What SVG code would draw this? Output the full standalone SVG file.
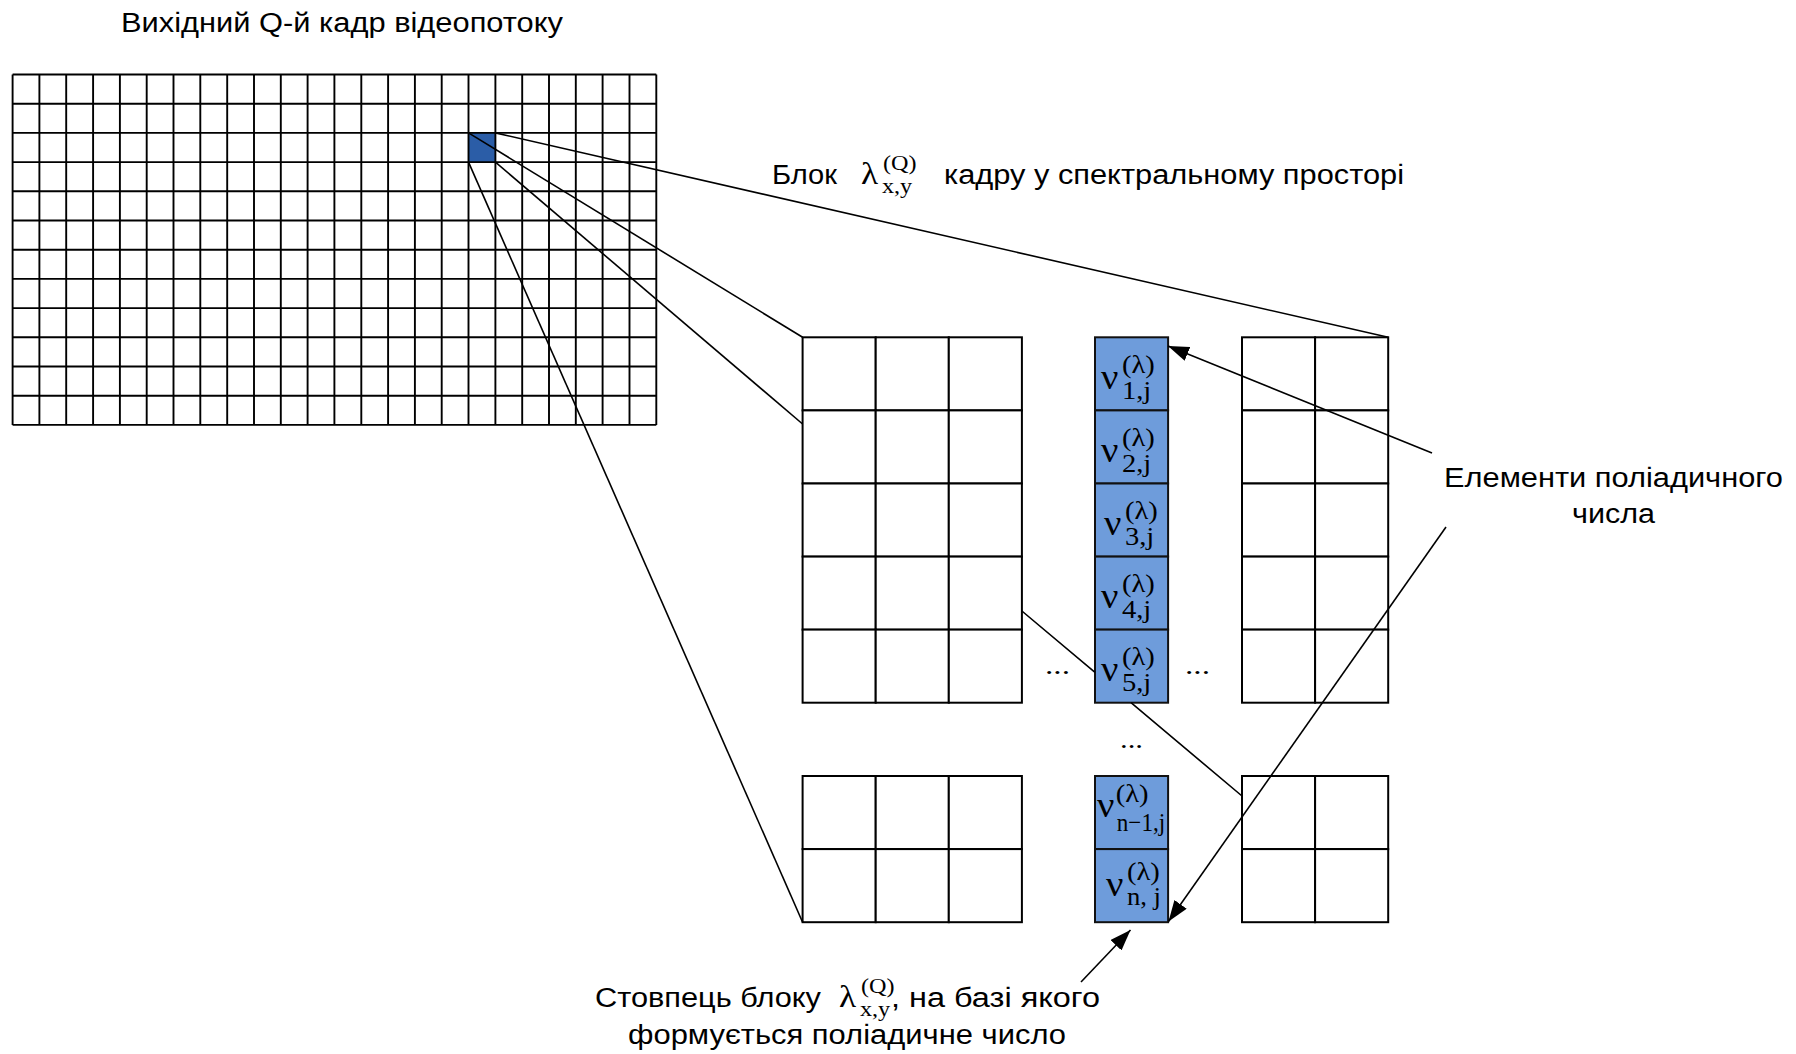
<svg xmlns="http://www.w3.org/2000/svg" width="1796" height="1054" viewBox="0 0 1796 1054">
  <style>
    .sans { font-family: "Liberation Sans", Arial, sans-serif; font-size: 27px; fill: #000; }
    .m { font-family: "Liberation Serif", "Times New Roman", serif; fill: #000; }
    .nu { font-size: 35px; }
    .ix { font-size: 26px; }
    .lam { font-size: 32px; }
    .lix { font-size: 22px; }
    .dots { font-family: "Liberation Serif", "Times New Roman", serif; font-size: 26px; fill: #000; }
    .grid { fill: none; stroke: #000; stroke-width: 1.9; }
    .cell { fill: #fff; stroke: #000; stroke-width: 2; }
    .vcell { fill: #6e9cdb; stroke: #111; stroke-width: 2; }
    .wire { fill: none; stroke: #000; stroke-width: 1.6; }
    .arrow { fill: none; stroke: #000; stroke-width: 1.6; marker-end: url(#head); }
  </style>
  <defs>
    <marker id="head" markerUnits="userSpaceOnUse" markerWidth="22" markerHeight="16" refX="21" refY="7.5" orient="auto">
      <path d="M0,0 L21,7.5 L0,15 Z" fill="#000"/>
    </marker>
  </defs>

  <rect width="1796" height="1054" fill="#fff"/>

  <!-- frame: 24 x 12 grid with the selected block -->
  <g id="frame">
    <rect x="468.5" y="132.9" width="26.9" height="29.2" fill="#2b5da7"/>
    <path class="grid" d="M12.6 74.5V424.9M39.4 74.5V424.9M66.2 74.5V424.9M93.1 74.5V424.9M119.9 74.5V424.9M146.7 74.5V424.9M173.5 74.5V424.9M200.3 74.5V424.9M227.2 74.5V424.9M254 74.5V424.9M280.8 74.5V424.9M307.6 74.5V424.9M334.4 74.5V424.9M361.3 74.5V424.9M388.1 74.5V424.9M414.9 74.5V424.9M441.7 74.5V424.9M468.5 74.5V424.9M495.4 74.5V424.9M522.2 74.5V424.9M549 74.5V424.9M575.8 74.5V424.9M602.6 74.5V424.9M629.5 74.5V424.9M656.3 74.5V424.9
      M12.6 74.5H656.3M12.6 103.7H656.3M12.6 132.9H656.3M12.6 162.1H656.3M12.6 191.3H656.3M12.6 220.5H656.3M12.6 249.7H656.3M12.6 278.9H656.3M12.6 308.1H656.3M12.6 337.3H656.3M12.6 366.5H656.3M12.6 395.7H656.3M12.6 424.9H656.3"/>
  </g>

  <g id="frame-title">
    <text class="sans" x="121" y="32" textLength="442" lengthAdjust="spacingAndGlyphs">Вихідний Q-й кадр відеопотоку</text>
  </g>

  <!-- spectral block: left part (5 x 3 and 2 x 3) -->
  <g id="block-left">
    <rect class="cell" x="802.6" y="337.3" width="73.1" height="73.1"/>
    <rect class="cell" x="875.7" y="337.3" width="73.1" height="73.1"/>
    <rect class="cell" x="948.8" y="337.3" width="73.1" height="73.1"/>
    <rect class="cell" x="802.6" y="410.4" width="73.1" height="73.1"/>
    <rect class="cell" x="875.7" y="410.4" width="73.1" height="73.1"/>
    <rect class="cell" x="948.8" y="410.4" width="73.1" height="73.1"/>
    <rect class="cell" x="802.6" y="483.5" width="73.1" height="73.1"/>
    <rect class="cell" x="875.7" y="483.5" width="73.1" height="73.1"/>
    <rect class="cell" x="948.8" y="483.5" width="73.1" height="73.1"/>
    <rect class="cell" x="802.6" y="556.6" width="73.1" height="73.1"/>
    <rect class="cell" x="875.7" y="556.6" width="73.1" height="73.1"/>
    <rect class="cell" x="948.8" y="556.6" width="73.1" height="73.1"/>
    <rect class="cell" x="802.6" y="629.6" width="73.1" height="73.1"/>
    <rect class="cell" x="875.7" y="629.6" width="73.1" height="73.1"/>
    <rect class="cell" x="948.8" y="629.6" width="73.1" height="73.1"/>
  </g>
  <g id="block-left-bottom">
    <rect class="cell" x="802.6" y="776" width="73.1" height="73.1"/>
    <rect class="cell" x="875.7" y="776" width="73.1" height="73.1"/>
    <rect class="cell" x="948.8" y="776" width="73.1" height="73.1"/>
    <rect class="cell" x="802.6" y="849.1" width="73.1" height="73.1"/>
    <rect class="cell" x="875.7" y="849.1" width="73.1" height="73.1"/>
    <rect class="cell" x="948.8" y="849.1" width="73.1" height="73.1"/>
  </g>

  <!-- spectral block: right part (5 x 2 and 2 x 2) -->
  <g id="block-right">
    <rect class="cell" x="1242" y="337.3" width="73.1" height="73.1"/>
    <rect class="cell" x="1315.1" y="337.3" width="73.1" height="73.1"/>
    <rect class="cell" x="1242" y="410.4" width="73.1" height="73.1"/>
    <rect class="cell" x="1315.1" y="410.4" width="73.1" height="73.1"/>
    <rect class="cell" x="1242" y="483.5" width="73.1" height="73.1"/>
    <rect class="cell" x="1315.1" y="483.5" width="73.1" height="73.1"/>
    <rect class="cell" x="1242" y="556.6" width="73.1" height="73.1"/>
    <rect class="cell" x="1315.1" y="556.6" width="73.1" height="73.1"/>
    <rect class="cell" x="1242" y="629.6" width="73.1" height="73.1"/>
    <rect class="cell" x="1315.1" y="629.6" width="73.1" height="73.1"/>
  </g>
  <g id="block-right-bottom">
    <rect class="cell" x="1242" y="776" width="73.1" height="73.1"/>
    <rect class="cell" x="1315.1" y="776" width="73.1" height="73.1"/>
    <rect class="cell" x="1242" y="849.1" width="73.1" height="73.1"/>
    <rect class="cell" x="1315.1" y="849.1" width="73.1" height="73.1"/>
  </g>

  <!-- column of polyadic number elements -->
  <g id="column">
    <g id="v1">
      <rect class="vcell" x="1095" y="337.3" width="73.1" height="73.1"/>
      <g transform="translate(1101 389) scale(1.1 1)">
        <text class="m nu" x="0" y="0">ν</text>
        <text class="m ix" x="19" y="-16">(λ)</text>
        <text class="m ix" x="19" y="10">1,j</text>
      </g>
    </g>
    <g id="v2">
      <rect class="vcell" x="1095" y="410.4" width="73.1" height="73.1"/>
      <g transform="translate(1101 462) scale(1.1 1)">
        <text class="m nu" x="0" y="0">ν</text>
        <text class="m ix" x="19" y="-16">(λ)</text>
        <text class="m ix" x="19" y="10">2,j</text>
      </g>
    </g>
    <g id="v3">
      <rect class="vcell" x="1095" y="483.5" width="73.1" height="73.1"/>
      <g transform="translate(1104 535) scale(1.1 1)">
        <text class="m nu" x="0" y="0">ν</text>
        <text class="m ix" x="19" y="-16">(λ)</text>
        <text class="m ix" x="19" y="10">3,j</text>
      </g>
    </g>
    <g id="v4">
      <rect class="vcell" x="1095" y="556.6" width="73.1" height="73.1"/>
      <g transform="translate(1101 608) scale(1.1 1)">
        <text class="m nu" x="0" y="0">ν</text>
        <text class="m ix" x="19" y="-16">(λ)</text>
        <text class="m ix" x="19" y="10">4,j</text>
      </g>
    </g>
    <g id="v5">
      <rect class="vcell" x="1095" y="629.6" width="73.1" height="73.1"/>
      <g transform="translate(1101 681) scale(1.1 1)">
        <text class="m nu" x="0" y="0">ν</text>
        <text class="m ix" x="19" y="-16">(λ)</text>
        <text class="m ix" x="19" y="10">5,j</text>
      </g>
    </g>
    <g id="vn1">
      <rect class="vcell" x="1095" y="776" width="73.1" height="73.1"/>
      <g transform="translate(1097 817) scale(1.1 1)">
        <text class="m nu" x="0" y="0">ν</text>
        <text class="m ix" x="17" y="-15">(λ)</text>
        <text class="m ix" x="18" y="14" textLength="44" lengthAdjust="spacingAndGlyphs">n−1,j</text>
      </g>
    </g>
    <g id="vn">
      <rect class="vcell" x="1095" y="849.1" width="73.1" height="73.1"/>
      <g transform="translate(1106 896) scale(1.1 1)">
        <text class="m nu" x="0" y="0">ν</text>
        <text class="m ix" x="19" y="-16">(λ)</text>
        <text class="m ix" x="19" y="9" textLength="31" lengthAdjust="spacingAndGlyphs">n, j</text>
      </g>
    </g>
  </g>

  <!-- omitted blocks -->
  <g id="ellipses">
    <text class="dots" x="1045" y="674" textLength="25" lengthAdjust="spacingAndGlyphs">...</text>
    <text class="dots" x="1185" y="674" textLength="25" lengthAdjust="spacingAndGlyphs">...</text>
    <text class="dots" x="1120" y="748" textLength="23" lengthAdjust="spacingAndGlyphs">...</text>
  </g>

  <!-- caption of the block -->
  <g id="block-caption">
    <text class="sans" x="772" y="184" textLength="65" lengthAdjust="spacingAndGlyphs">Блок</text>
    <g transform="translate(861 184) scale(1.1 1)">
      <text class="m lam" x="0" y="0">λ</text>
      <text class="m lix" x="20" y="-14">(Q)</text>
      <text class="m lix" x="19" y="9">x,y</text>
    </g>
    <text class="sans" x="944" y="184" textLength="460" lengthAdjust="spacingAndGlyphs">кадру у спектральному просторі</text>
  </g>

  <g id="elements-caption">
    <text class="sans" x="1444" y="487" textLength="339" lengthAdjust="spacingAndGlyphs">Елементи поліадичного</text>
    <text class="sans" x="1572" y="523" textLength="83" lengthAdjust="spacingAndGlyphs">числа</text>
  </g>

  <g id="column-caption">
    <text class="sans" x="595" y="1007" textLength="226" lengthAdjust="spacingAndGlyphs">Стовпець блоку</text>
    <g transform="translate(839 1007) scale(1.1 1)">
      <text class="m lam" x="0" y="0">λ</text>
      <text class="m lix" x="20" y="-14">(Q)</text>
      <text class="m lix" x="19" y="9">x,y</text>
    </g>
    <text class="sans" x="891" y="1007" textLength="209" lengthAdjust="spacingAndGlyphs">, на базі якого</text>
    <text class="sans" x="628" y="1044" textLength="438" lengthAdjust="spacingAndGlyphs">формується поліадичне число</text>
  </g>

  <!-- connectors -->
  <g id="connectors">
    <path class="wire" d="M495.4 132.9L1388.2 337.3"/>
    <path class="wire" d="M468.5 132.9L802.6 337.3"/>
    <path class="wire" d="M495.4 162.1L802.6 424"/>
    <path class="wire" d="M468.5 162.1L802.6 922.2"/>
    <path class="wire" d="M1021.9 611L1095 672.4M1131 702.7L1242 796"/>
    <path class="arrow" d="M1432 453L1168 346"/>
    <path class="arrow" d="M1446 527L1168.5 921.5"/>
    <path class="arrow" d="M1081 982L1130.5 930"/>
  </g>
</svg>
